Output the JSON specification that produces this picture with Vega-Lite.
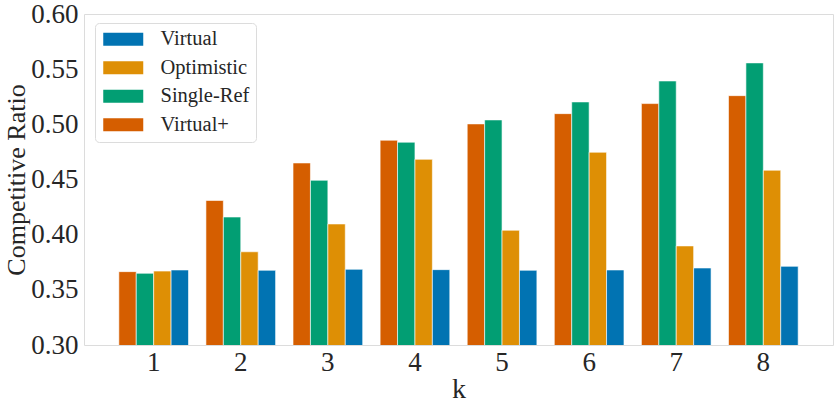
{
  "$schema": "https://vega.github.io/schema/vega-lite/v6.json",
  "width": 749,
  "height": 331,
  "autosize": {"type": "none"},
  "padding": {"left": 84, "top": 14, "right": 5, "bottom": 62},
  "config": {
    "background": "white",
    "font": "Liberation Serif",
    "view": {"stroke": "#dcdcdc", "strokeWidth": 1},
    "axis": {
      "labelFont": "Liberation Serif",
      "titleFont": "Liberation Serif",
      "labelColor": "#262626",
      "titleColor": "#262626",
      "labelFontSize": 27,
      "titleFontWeight": "normal",
      "ticks": false,
      "domain": false,
      "grid": false
    },
    "legend": {
      "labelFont": "Liberation Serif",
      "labelFontSize": 20.5,
      "labelColor": "#262626"
    }
  },
  "data": {
    "values": [
      {"k": 1, "method": "Virtual+", "ratio": 0.3665},
      {"k": 1, "method": "Single-Ref", "ratio": 0.365},
      {"k": 1, "method": "Optimistic", "ratio": 0.367},
      {"k": 1, "method": "Virtual", "ratio": 0.368},
      {"k": 2, "method": "Virtual+", "ratio": 0.431},
      {"k": 2, "method": "Single-Ref", "ratio": 0.416},
      {"k": 2, "method": "Optimistic", "ratio": 0.3845},
      {"k": 2, "method": "Virtual", "ratio": 0.3677},
      {"k": 3, "method": "Virtual+", "ratio": 0.465},
      {"k": 3, "method": "Single-Ref", "ratio": 0.4493},
      {"k": 3, "method": "Optimistic", "ratio": 0.4097},
      {"k": 3, "method": "Virtual", "ratio": 0.3686},
      {"k": 4, "method": "Virtual+", "ratio": 0.4856},
      {"k": 4, "method": "Single-Ref", "ratio": 0.4838},
      {"k": 4, "method": "Optimistic", "ratio": 0.4683},
      {"k": 4, "method": "Virtual", "ratio": 0.3683},
      {"k": 5, "method": "Virtual+", "ratio": 0.5004},
      {"k": 5, "method": "Single-Ref", "ratio": 0.504},
      {"k": 5, "method": "Optimistic", "ratio": 0.404},
      {"k": 5, "method": "Virtual", "ratio": 0.3677},
      {"k": 6, "method": "Virtual+", "ratio": 0.5097},
      {"k": 6, "method": "Single-Ref", "ratio": 0.5203},
      {"k": 6, "method": "Optimistic", "ratio": 0.4747},
      {"k": 6, "method": "Virtual", "ratio": 0.368},
      {"k": 7, "method": "Virtual+", "ratio": 0.5188},
      {"k": 7, "method": "Single-Ref", "ratio": 0.5393},
      {"k": 7, "method": "Optimistic", "ratio": 0.3898},
      {"k": 7, "method": "Virtual", "ratio": 0.3698},
      {"k": 8, "method": "Virtual+", "ratio": 0.526},
      {"k": 8, "method": "Single-Ref", "ratio": 0.5557},
      {"k": 8, "method": "Optimistic", "ratio": 0.4584},
      {"k": 8, "method": "Virtual", "ratio": 0.3713}
    ]
  },
  "mark": {"type": "bar", "stroke": "white", "strokeWidth": 0.6, "clip": true},
  "encoding": {
    "x": {
      "field": "k",
      "type": "ordinal",
      "title": "k",
      "scale": {"paddingInner": 0.2, "paddingOuter": 0.4},
      "axis": {"labelAngle": 0, "labelPadding": 4, "titleFontSize": 28, "titlePadding": 0}
    },
    "xOffset": {
      "field": "method",
      "type": "nominal",
      "scale": {"domain": ["Virtual+", "Single-Ref", "Optimistic", "Virtual"], "paddingInner": 0, "paddingOuter": 0}
    },
    "y": {
      "field": "ratio",
      "type": "quantitative",
      "title": "Competitive Ratio",
      "scale": {"domain": [0.3, 0.6], "zero": false, "nice": false},
      "axis": {"values": [0.3, 0.35, 0.4, 0.45, 0.5, 0.55, 0.6], "format": ".2f", "labelPadding": 6, "titleFontSize": 26, "titlePadding": 1}
    },
    "color": {
      "field": "method",
      "type": "nominal",
      "title": null,
      "scale": {
        "domain": ["Virtual", "Optimistic", "Single-Ref", "Virtual+"],
        "range": ["#0173b2", "#de8f05", "#029e73", "#d55e00"]
      },
      "legend": {
        "orient": "none",
        "legendX": 11,
        "legendY": 9,
        "symbolType": "M-0.8,-0.65H3.2V0.65H-0.8Z",
        "symbolSize": 400,
        "symbolStrokeWidth": 0,
        "symbolOpacity": 1,
        "labelOffset": 39,
        "rowPadding": 7.5,
        "padding": 6,
        "fillColor": "white",
        "strokeColor": "#dcdcdc",
        "cornerRadius": 4
      }
    }
  }
}
